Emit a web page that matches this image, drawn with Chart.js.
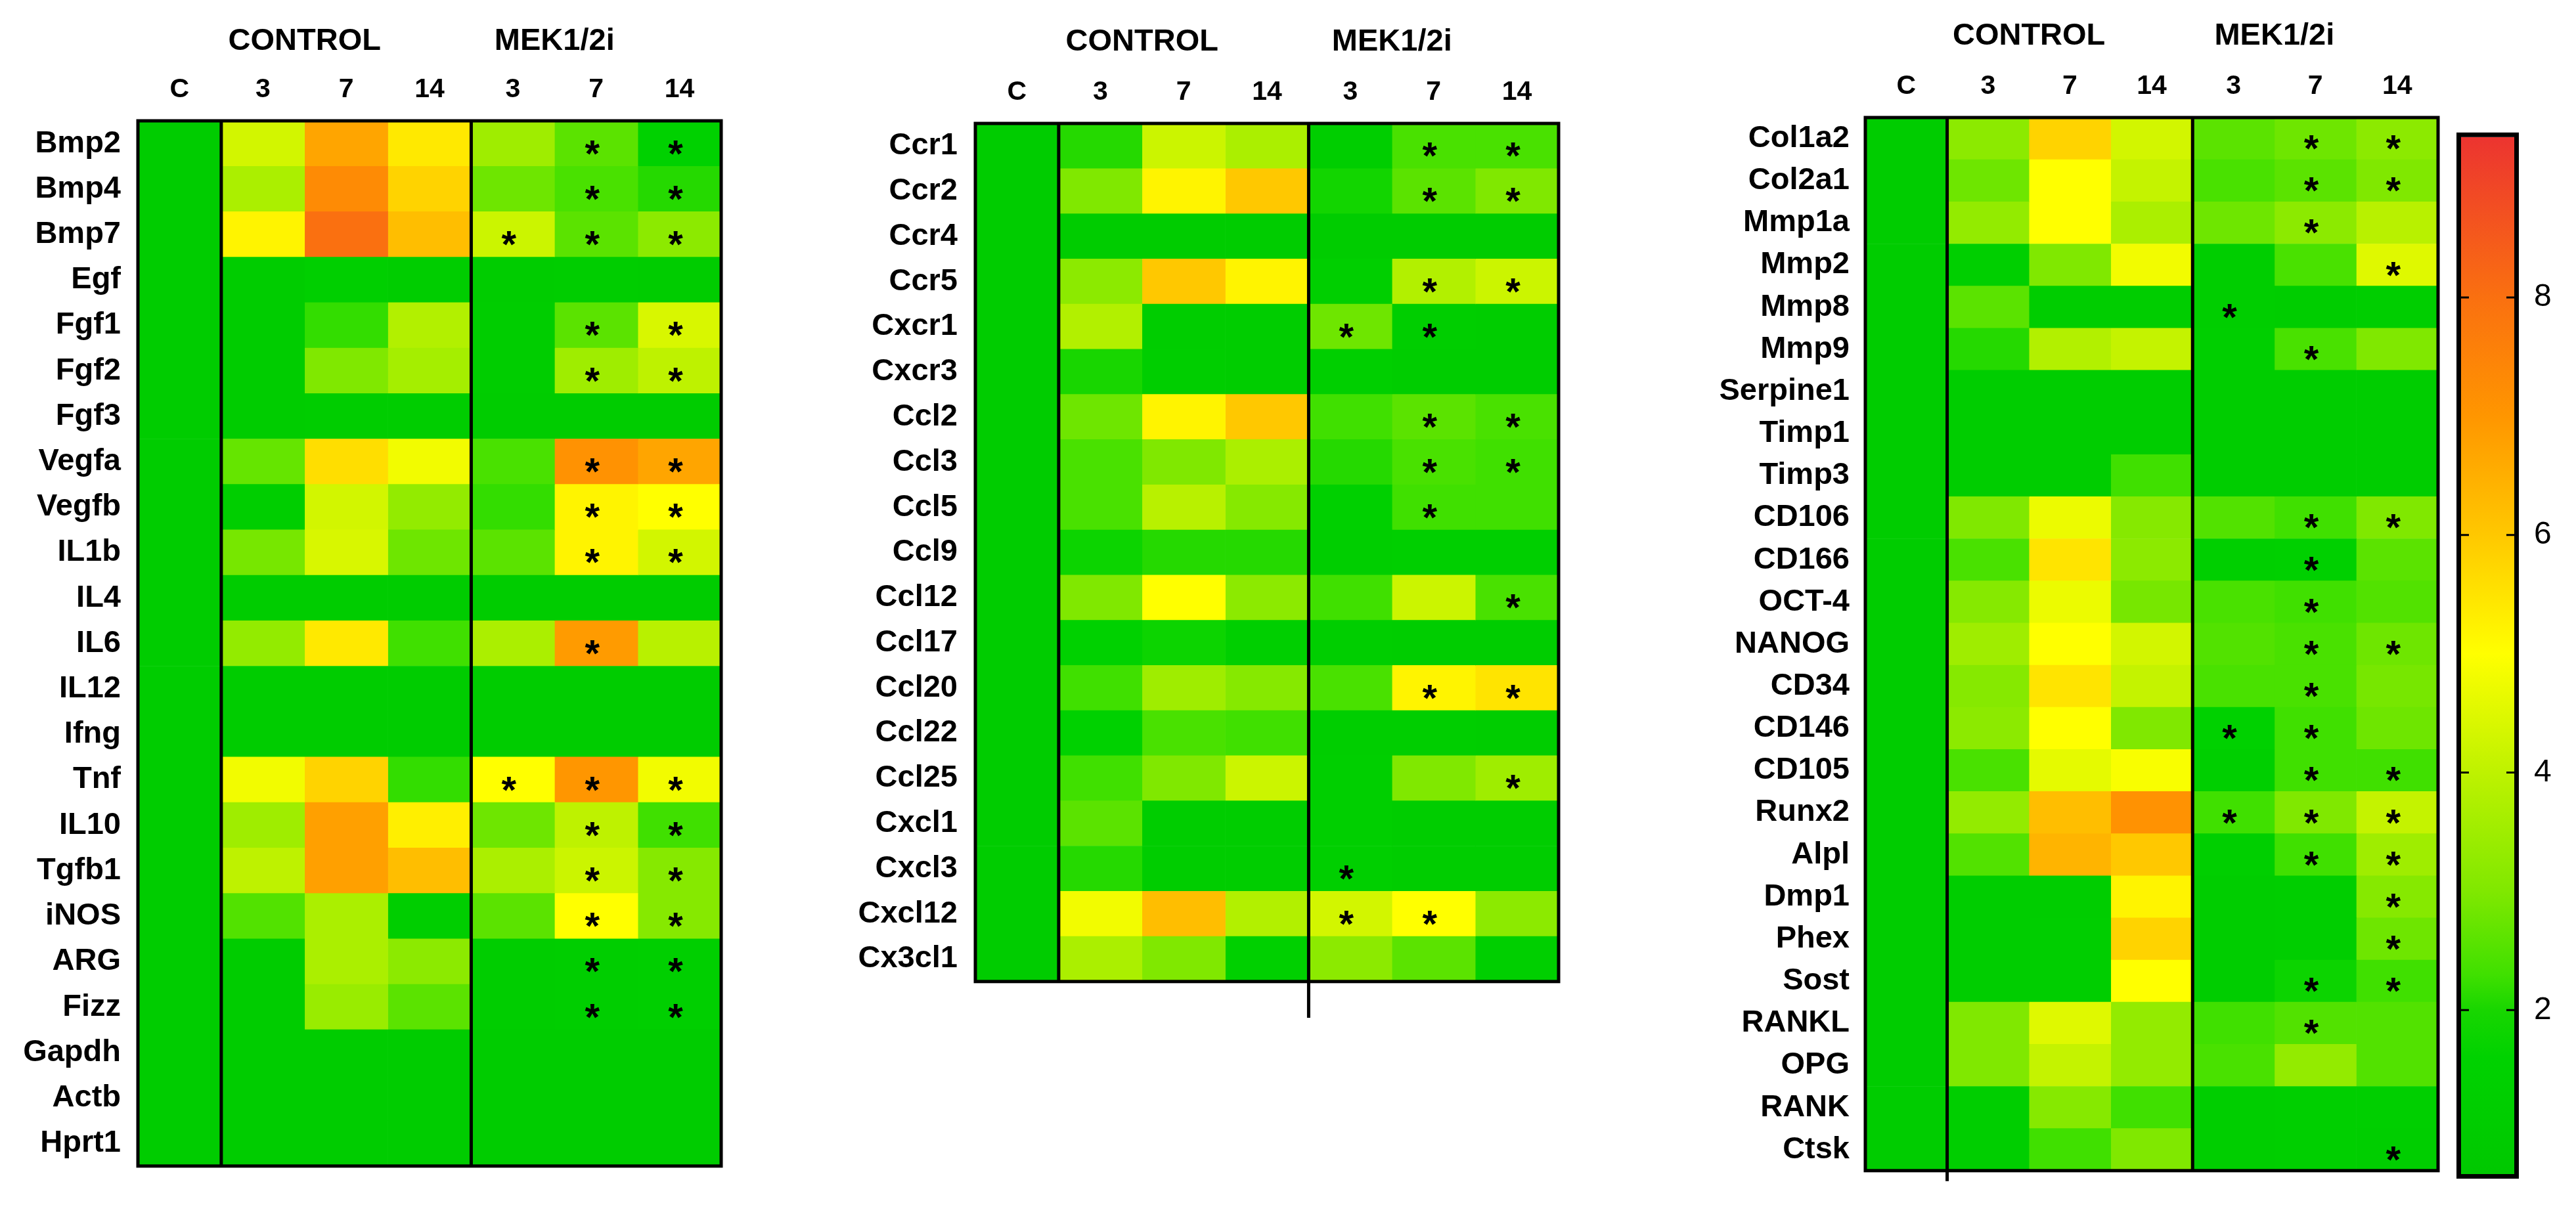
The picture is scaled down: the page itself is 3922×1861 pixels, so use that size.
<!DOCTYPE html>
<html>
<head>
<meta charset="utf-8">
<script src="https://cdn.jsdelivr.net/npm/chart.js@4.4.0/dist/chart.umd.min.js"></script>
<style>
  html, body { margin: 0; padding: 0; background: #fff; }
  #page { position: relative; width: 3922px; height: 1861px; overflow: hidden; background: #fff; }
  canvas { position: absolute; top: 0; }
</style>
</head>
<body>
<div id="page">
  <canvas id="growth" width="1112" height="1830" style="left:0px"></canvas>
  <canvas id="chemo" width="1160" height="1550" style="left:1230px"></canvas>
  <canvas id="matrix" width="1145" height="1835" style="left:2580px"></canvas>
  <canvas id="scale" width="222" height="1700" style="left:3700px;top:150px"></canvas>
</div>
<script>
// column headers and group titles (same for all three panels)
const headers = ['C', '3', '7', '14', '3', '7', '14'];
const groups = ['CONTROL', 'MEK1/2i'];

// ---- panel 1: growth factors / cytokines ----
const growthGenes = ['Bmp2', 'Bmp4', 'Bmp7', 'Egf', 'Fgf1', 'Fgf2', 'Fgf3', 'Vegfa', 'Vegfb', 'IL1b', 'IL4', 'IL6',
    'IL12', 'Ifng', 'Tnf', 'IL10', 'Tgfb1', 'iNOS', 'ARG', 'Fizz', 'Gapdh', 'Actb', 'Hprt1'];
const growthC     = [1, 1, 1, 1, 1, 1, 1, 1, 1, 1, 1, 1, 1, 1, 1, 1, 1, 1, 1, 1, 1, 1, 1];
const growthCtl3  = [4.3, 3.7, 5.2, 1.0, 1.0, 1.0, 1.0, 2.7, 1.2, 2.9, 1.0, 3.3, 1.0, 1.0, 4.8, 3.5, 4.0, 2.5, 1.0, 1.0, 1.0, 1.0, 1.0];
const growthCtl7  = [6.7, 7.3, 8.0, 1.3, 2.2, 3.0, 1.1, 5.6, 4.3, 4.4, 1.0, 5.4, 1.0, 1.0, 5.8, 6.8, 6.8, 3.7, 3.7, 3.4, 1.0, 1.0, 1.0];
const growthCtl14 = [5.4, 5.8, 6.2, 1.1, 3.8, 3.6, 1.1, 4.8, 3.3, 2.8, 1.0, 2.3, 1.0, 1.0, 2.2, 5.3, 6.2, 1.2, 3.2, 2.6, 1.0, 1.0, 1.0];
const growthMek3  = [3.5, 2.8, 4.2, 1.0, 1.1, 1.1, 1.0, 2.4, 2.2, 2.6, 1.0, 3.7, 1.0, 1.0, 5.0, 2.8, 3.7, 2.6, 1.1, 1.1, 1.0, 1.0, 1.0];
const growthMek7  = [2.6, 2.4, 2.6, 1.1, 2.6, 3.5, 1.0, 7.1, 5.2, 5.2, 1.0, 6.9, 1.0, 1.0, 7.0, 4.0, 4.2, 5.0, 1.2, 1.2, 1.0, 1.0, 1.0];
const growthMek14 = [1.5, 2.1, 3.2, 1.0, 4.4, 4.0, 1.0, 6.7, 5.0, 4.3, 1.0, 3.9, 1.0, 1.0, 4.8, 2.3, 3.1, 3.1, 1.3, 1.3, 1.0, 1.0, 1.0];
const growthStars3  = ['Bmp7', 'Tnf'];
const growthStars7  = ['Bmp2', 'Bmp4', 'Bmp7', 'Fgf1', 'Fgf2', 'Vegfa', 'Vegfb', 'IL1b', 'IL6', 'Tnf', 'IL10', 'Tgfb1', 'iNOS', 'ARG', 'Fizz'];
const growthStars14 = ['Bmp2', 'Bmp4', 'Bmp7', 'Fgf1', 'Fgf2', 'Vegfa', 'Vegfb', 'IL1b', 'Tnf', 'IL10', 'Tgfb1', 'iNOS', 'ARG', 'Fizz'];

// ---- panel 2: chemokines ----
const chemoGenes = ['Ccr1', 'Ccr2', 'Ccr4', 'Ccr5', 'Cxcr1', 'Cxcr3', 'Ccl2', 'Ccl3', 'Ccl5', 'Ccl9', 'Ccl12', 'Ccl17',
    'Ccl20', 'Ccl22', 'Ccl25', 'Cxcl1', 'Cxcl3', 'Cxcl12', 'Cx3cl1'];
const chemoC     = [1, 1, 1, 1, 1, 1, 1, 1, 1, 1, 1, 1, 1, 1, 1, 1, 1, 1, 1];
const chemoCtl3  = [2.1, 3.0, 1.0, 3.2, 3.8, 2.0, 2.8, 2.4, 2.4, 1.8, 3.0, 1.5, 2.3, 1.5, 2.3, 2.6, 2.1, 4.8, 3.7];
const chemoCtl7  = [4.2, 5.2, 1.0, 6.0, 1.1, 1.2, 5.2, 3.0, 3.9, 2.1, 5.0, 1.8, 3.5, 2.4, 3.0, 1.1, 1.1, 6.2, 3.0];
const chemoCtl14 = [3.7, 6.0, 1.0, 5.2, 1.1, 1.1, 6.0, 3.7, 3.1, 2.1, 3.2, 1.3, 3.1, 2.3, 4.2, 1.1, 1.1, 3.8, 1.4];
const chemoMek3  = [1.2, 1.9, 1.0, 1.3, 2.8, 1.3, 2.3, 2.1, 1.4, 1.2, 2.3, 1.2, 2.4, 1.2, 1.3, 1.3, 1.3, 4.3, 3.2];
const chemoMek7  = [2.4, 2.6, 1.0, 3.8, 1.2, 1.1, 2.6, 2.4, 2.3, 1.3, 4.2, 1.1, 5.2, 1.2, 3.0, 1.1, 1.1, 5.0, 2.6];
const chemoMek14 = [2.4, 3.0, 1.0, 4.2, 1.1, 1.1, 2.4, 2.3, 2.3, 1.3, 2.4, 1.1, 5.5, 1.1, 3.5, 1.1, 1.1, 3.2, 1.3];
const chemoStars3  = ['Cxcr1', 'Cxcl3', 'Cxcl12'];
const chemoStars7  = ['Ccr1', 'Ccr2', 'Ccr5', 'Cxcr1', 'Ccl2', 'Ccl3', 'Ccl5', 'Ccl20', 'Cxcl12'];
const chemoStars14 = ['Ccr1', 'Ccr2', 'Ccr5', 'Ccl2', 'Ccl3', 'Ccl12', 'Ccl20', 'Ccl25'];

// ---- panel 3: matrix / stem cell / bone markers ----
const matrixGenes = ['Col1a2', 'Col2a1', 'Mmp1a', 'Mmp2', 'Mmp8', 'Mmp9', 'Serpine1', 'Timp1', 'Timp3', 'CD106', 'CD166',
    'OCT-4', 'NANOG', 'CD34', 'CD146', 'CD105', 'Runx2', 'Alpl', 'Dmp1', 'Phex', 'Sost', 'RANKL', 'OPG', 'RANK', 'Ctsk'];
const matrixC     = [1, 1, 1, 1, 1, 1, 1, 1, 1, 1, 1, 1, 1, 1, 1, 1, 1, 1, 1, 1, 1, 1, 1, 1, 1];
const matrixCtl3  = [3.2, 2.8, 3.3, 1.3, 2.6, 2.1, 1.1, 1.1, 1.1, 3.0, 2.4, 3.1, 3.5, 3.1, 3.2, 2.4, 3.3, 2.5, 1.1, 1.1, 1.1, 3.0, 3.0, 1.2, 1.2];
const matrixCtl7  = [5.8, 5.0, 5.0, 3.0, 1.1, 3.8, 1.1, 1.1, 1.1, 4.7, 5.5, 4.7, 5.0, 5.5, 5.0, 4.6, 6.2, 6.4, 1.1, 1.2, 1.2, 4.5, 4.1, 3.1, 2.3];
const matrixCtl14 = [4.3, 4.1, 3.7, 4.8, 1.1, 4.1, 1.1, 1.1, 2.3, 3.1, 3.2, 2.9, 4.3, 4.1, 3.0, 4.9, 7.1, 6.0, 5.2, 5.8, 5.0, 3.3, 3.3, 2.3, 3.0];
const matrixMek3  = [2.6, 2.4, 2.8, 1.2, 1.2, 1.3, 1.1, 1.1, 1.1, 2.5, 1.3, 2.4, 2.5, 2.4, 1.5, 1.3, 2.3, 1.3, 1.1, 1.1, 1.1, 2.3, 2.4, 1.2, 1.2];
const matrixMek7  = [2.8, 2.6, 3.2, 2.4, 1.1, 2.4, 1.1, 1.1, 1.1, 2.3, 1.4, 2.3, 2.4, 2.4, 2.3, 2.3, 3.0, 2.3, 1.2, 1.2, 1.8, 2.5, 3.3, 1.3, 1.3];
const matrixMek14 = [3.2, 3.0, 3.9, 4.5, 1.2, 3.0, 1.1, 1.1, 1.1, 3.0, 2.6, 2.5, 2.8, 2.9, 2.8, 2.3, 4.1, 3.5, 3.1, 2.8, 2.3, 2.5, 2.5, 1.3, 1.2];
const matrixStars3  = ['Mmp8', 'CD146', 'Runx2'];
const matrixStars7  = ['Col1a2', 'Col2a1', 'Mmp1a', 'Mmp9', 'CD106', 'CD166', 'OCT-4', 'NANOG', 'CD34', 'CD146', 'CD105', 'Runx2', 'Alpl', 'Sost', 'RANKL'];
const matrixStars14 = ['Col1a2', 'Col2a1', 'Mmp2', 'CD106', 'NANOG', 'CD105', 'Runx2', 'Alpl', 'Dmp1', 'Phex', 'Sost', 'Ctsk'];

// ---- colour scale ----
const scaleMin = 0.62;
const scaleMax = 9.35;
const scaleTicks = [2, 4, 6, 8];
const colorStops = [
    [0.6, [0, 200, 0]], [1.6, [0, 210, 0]], [2.0, [24, 214, 0]], [2.3, [64, 224, 0]],
    [3.0, [128, 232, 0]], [4.0, [190, 242, 0]], [5.0, [255, 255, 0]], [6.0, [255, 200, 0]],
    [7.0, [255, 150, 0]], [8.0, [250, 112, 16]], [9.35, [236, 52, 48]]
];

const FONT = '"Liberation Sans", Arial, Helvetica, sans-serif';

function valueColor(v) {
    if (v <= colorStops[0][0]) return 'rgb(' + colorStops[0][1].join(',') + ')';
    for (let i = 1; i < colorStops.length; i++) {
        const [v1, c1] = colorStops[i];
        const [v0, c0] = colorStops[i - 1];
        if (v <= v1) {
            const t = (v - v0) / (v1 - v0);
            const c = c0.map((ch, k) => Math.round(ch + (c1[k] - ch) * t));
            return 'rgb(' + c.join(',') + ')';
        }
    }
    return 'rgb(' + colorStops[colorStops.length - 1][1].join(',') + ')';
}

// black frame, separators, group titles and asterisks
const heatDecor = {
    id: 'heatDecor',
    afterDraw(chart) {
        const cfg = chart.options.plugins.heatDecor;
        const { ctx, chartArea: a, scales: { x, y } } = chart;
        ctx.save();
        ctx.strokeStyle = '#000';
        ctx.lineWidth = 5;
        ctx.strokeRect(a.left, a.top, a.right - a.left, a.bottom - a.top);
        [1, 4].forEach((col, i) => {
            const px = x.getPixelForValue(col);
            ctx.beginPath();
            ctx.moveTo(px, a.top);
            ctx.lineTo(px, a.bottom + cfg.sepExtend[i]);
            ctx.stroke();
        });

        ctx.fillStyle = '#000';
        ctx.textAlign = 'center';
        ctx.textBaseline = 'middle';
        ctx.font = 'bold 47px ' + FONT;
        ctx.fillText(groups[0], x.getPixelForValue(2), cfg.groupY);
        ctx.fillText(groups[1], x.getPixelForValue(5), cfg.groupY);

        ctx.font = 'bold 58px ' + FONT;
        ctx.textBaseline = 'alphabetic';
        cfg.stars.forEach((list, i) => {
            const px = x.getPixelForValue(4 + i + 0.5) - 6;
            list.forEach(gene => {
                const row = cfg.genes.indexOf(gene);
                if (row < 0) return;
                ctx.fillText('*', px, y.getPixelForValue(row) + 35);
            });
        });
        ctx.restore();
    }
};

function makePanel(id, genes, columns, stars, lay) {
    const datasets = columns.map((vals, c) => ({
        data: vals.map(() => [c, c + 1]),
        backgroundColor: vals.map(valueColor),
        borderWidth: 0,
        barPercentage: 1,
        categoryPercentage: 1,
        grouped: false
    }));

    return new Chart(document.getElementById(id), {
        type: 'bar',
        data: { labels: genes, datasets: datasets },
        options: {
            indexAxis: 'y',
            responsive: false,
            animation: false,
            devicePixelRatio: 1,
            layout: { padding: lay.padding },
            plugins: {
                legend: { display: false },
                tooltip: { enabled: false },
                heatDecor: { genes: genes, stars: stars, groupY: lay.groupY, sepExtend: lay.sepExtend }
            },
            scales: {
                x: {
                    type: 'linear',
                    position: 'top',
                    min: 0,
                    max: 7,
                    grid: { display: false, drawTicks: false },
                    border: { display: false },
                    afterBuildTicks: s => { s.ticks = headers.map((h, i) => ({ value: i + 0.5 })); },
                    afterFit: s => { s.height = lay.headerHeight; },
                    ticks: {
                        autoSkip: false,
                        maxRotation: 0,
                        padding: 23,
                        color: '#000',
                        font: { family: FONT, size: 41, weight: 'bold' },
                        callback: (v, i) => headers[i]
                    }
                },
                y: {
                    type: 'category',
                    grid: { display: false, drawTicks: false },
                    border: { display: false },
                    afterFit: s => { s.width = lay.labelWidth; },
                    ticks: {
                        autoSkip: false,
                        padding: lay.labelPad,
                        color: '#000',
                        font: { family: FONT, size: 47, weight: 'bold' }
                    }
                }
            }
        },
        plugins: [heatDecor]
    });
}

makePanel('growth', growthGenes,
    [growthC, growthCtl3, growthCtl7, growthCtl14, growthMek3, growthMek7, growthMek14],
    [growthStars3, growthStars7, growthStars14],
    { labelWidth: 210, labelPad: 26, headerHeight: 84, groupY: 63, sepExtend: [0, 0],
      padding: { top: 100, right: 14, bottom: 23, left: 0 } });

makePanel('chemo', chemoGenes,
    [chemoC, chemoCtl3, chemoCtl7, chemoCtl14, chemoMek3, chemoMek7, chemoMek14],
    [chemoStars3, chemoStars7, chemoStars14],
    { labelWidth: 255, labelPad: 27, headerHeight: 88, groupY: 64, sepExtend: [0, 75],
      padding: { top: 100, right: 17, bottom: 22, left: 0 } });

makePanel('matrix', matrixGenes,
    [matrixC, matrixCtl3, matrixCtl7, matrixCtl14, matrixMek3, matrixMek7, matrixMek14],
    [matrixStars3, matrixStars7, matrixStars14],
    { labelWidth: 260, labelPad: 24, headerHeight: 79, groupY: 55, sepExtend: [16, 0],
      padding: { top: 100, right: 13, bottom: 22, left: 0 } });

// colour bar
const barFrame = {
    id: 'barFrame',
    afterDraw(chart) {
        const { ctx, chartArea: a, scales: { y } } = chart;
        ctx.save();
        ctx.strokeStyle = '#000';
        ctx.lineWidth = 7;
        ctx.strokeRect(a.left - 3.5, a.top - 3.5, a.right - a.left + 7, a.bottom - a.top + 7);
        ctx.lineWidth = 3;
        scaleTicks.forEach(v => {
            const py = y.getPixelForValue(v);
            ctx.beginPath();
            ctx.moveTo(a.left, py); ctx.lineTo(a.left + 12, py);
            ctx.moveTo(a.right - 12, py); ctx.lineTo(a.right, py);
            ctx.stroke();
        });
        ctx.restore();
    }
};

new Chart(document.getElementById('scale'), {
    type: 'bar',
    data: {
        labels: ['fold'],
        datasets: [{
            data: [[scaleMin, scaleMax]],
            borderWidth: 0,
            barPercentage: 1,
            categoryPercentage: 1,
            backgroundColor: c => {
                const chart = c.chart;
                if (!chart.chartArea) return valueColor(1);
                const y = chart.scales.y;
                const g = chart.ctx.createLinearGradient(0, y.getPixelForValue(scaleMin), 0, y.getPixelForValue(scaleMax));
                colorStops.forEach(([v, rgb]) => {
                    const t = Math.min(1, Math.max(0, (v - scaleMin) / (scaleMax - scaleMin)));
                    g.addColorStop(t, 'rgb(' + rgb.join(',') + ')');
                });
                return g;
            }
        }]
    },
    options: {
        responsive: false,
        animation: false,
        devicePixelRatio: 1,
        layout: { padding: { top: 44, bottom: 62, left: 47, right: 0 } },
        plugins: { legend: { display: false }, tooltip: { enabled: false } },
        scales: {
            x: { display: false },
            y: {
                position: 'right',
                min: scaleMin,
                max: scaleMax,
                grid: { display: false, drawTicks: false },
                border: { display: false },
                afterBuildTicks: s => { s.ticks = scaleTicks.map(v => ({ value: v })); },
                afterFit: s => { s.width = 94; },
                ticks: {
                    padding: 30,
                    color: '#000',
                    font: { family: FONT, size: 48 }
                }
            }
        }
    },
    plugins: [barFrame]
});
</script>
</body>
</html>
